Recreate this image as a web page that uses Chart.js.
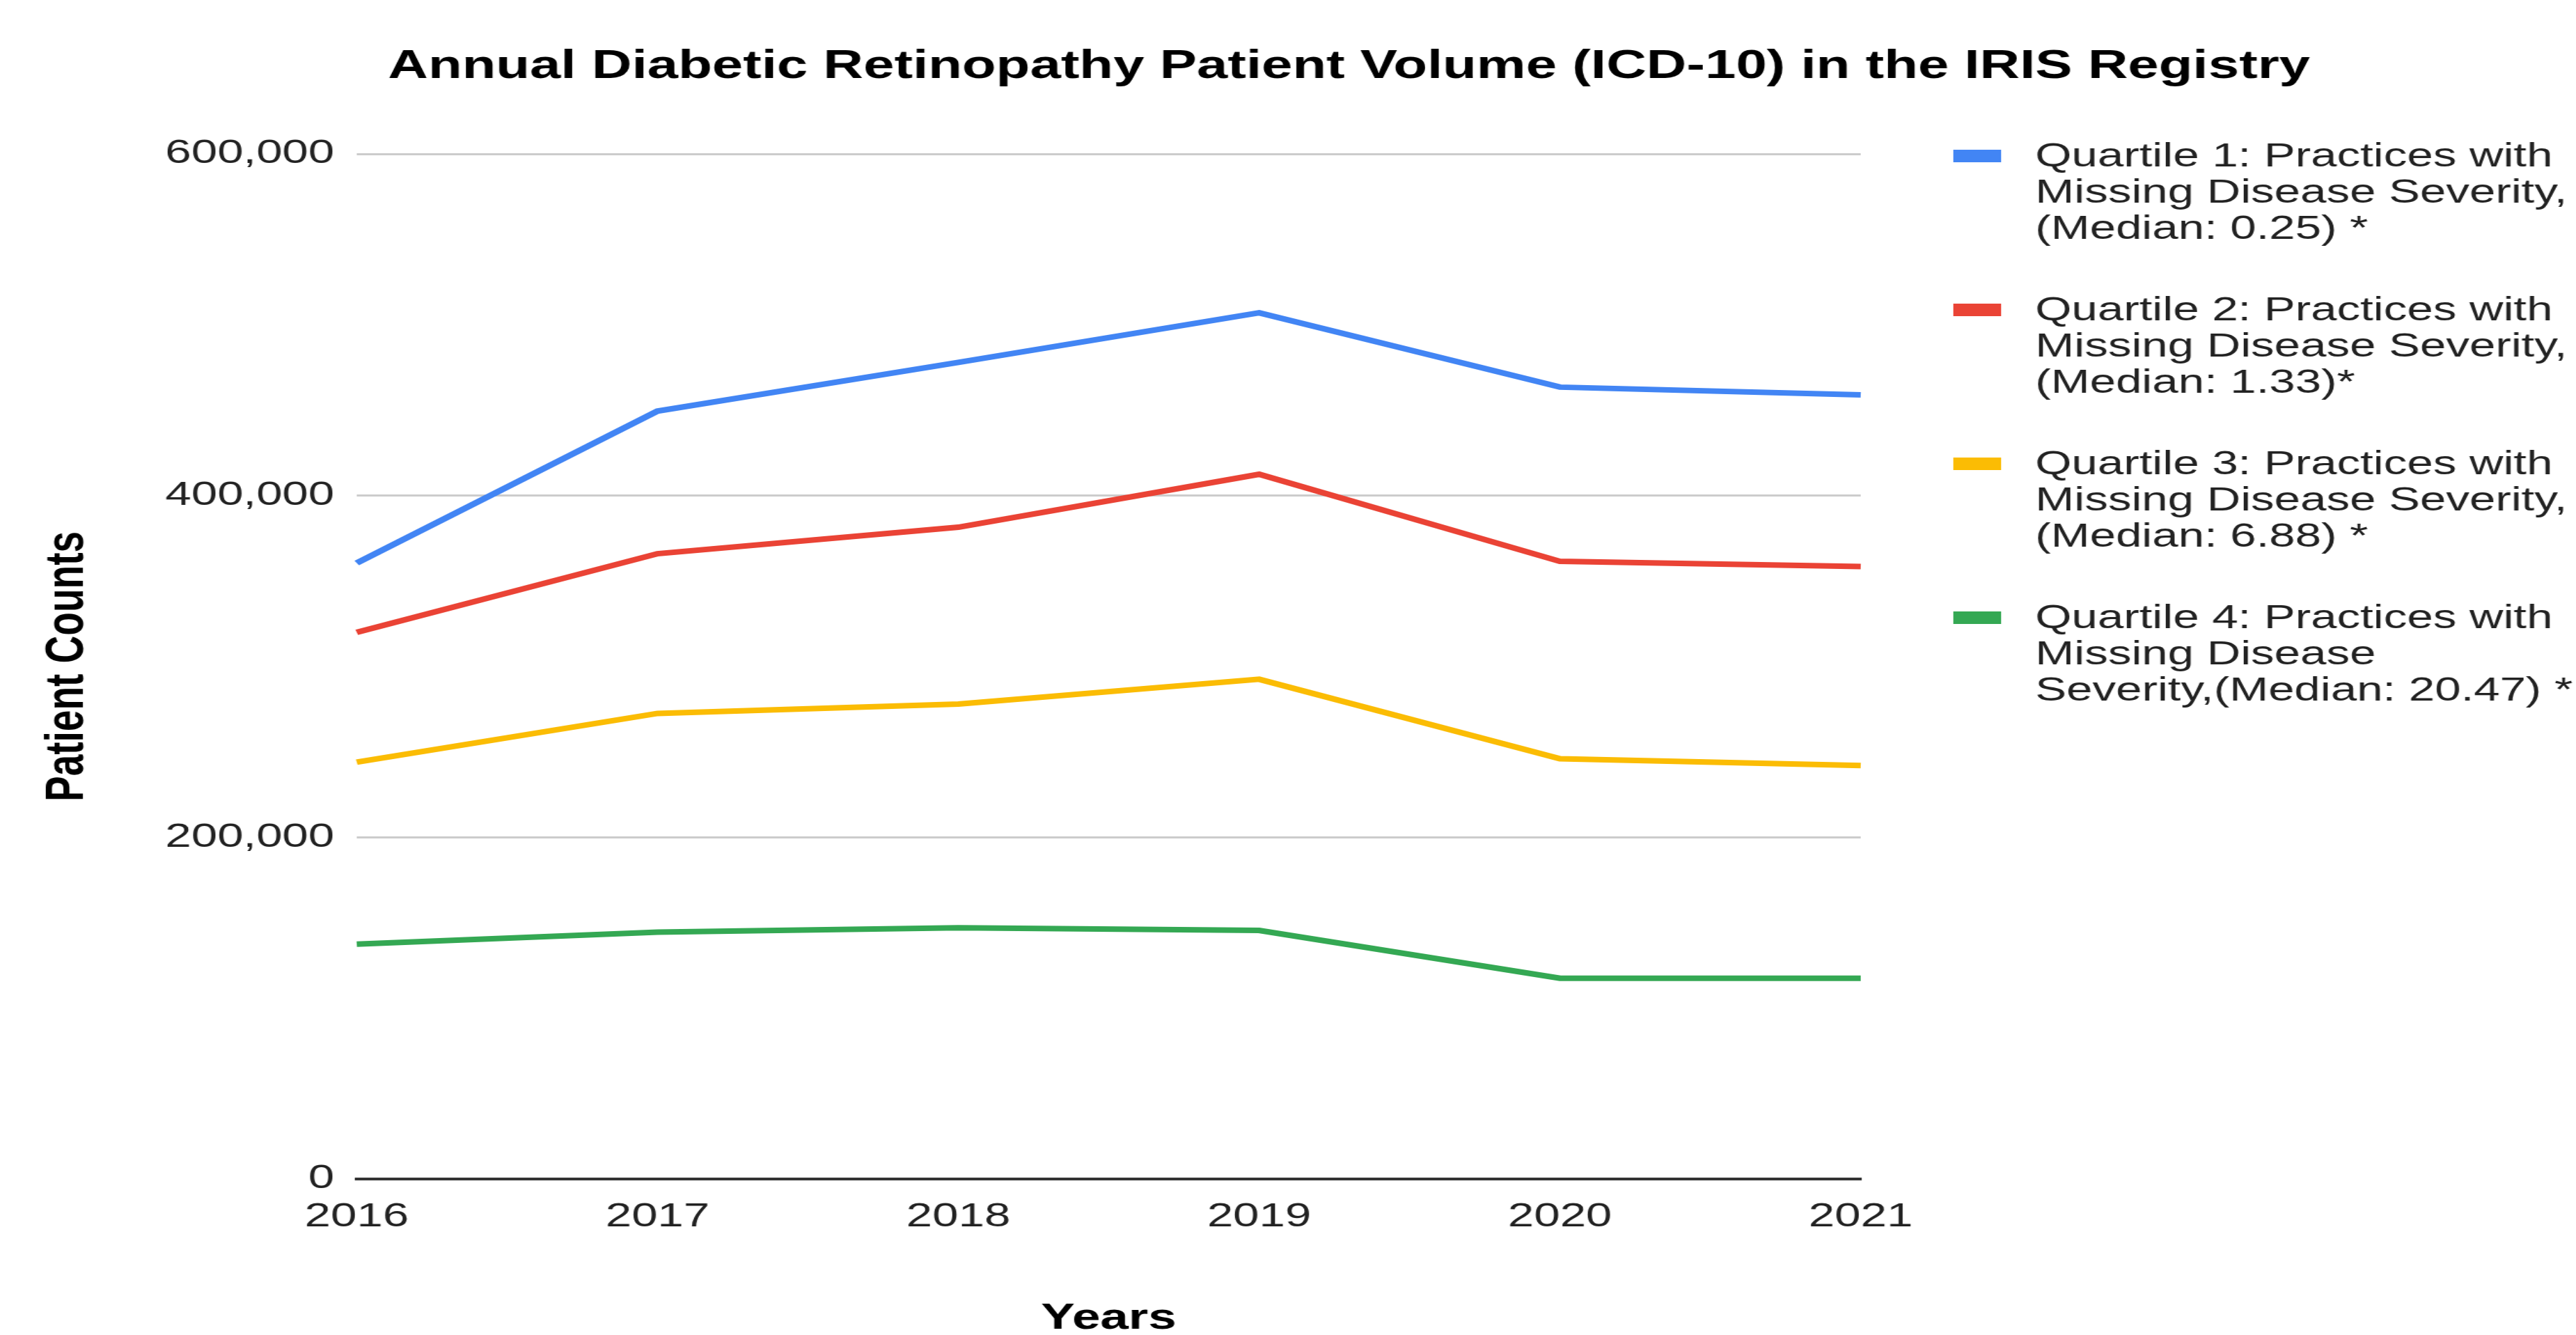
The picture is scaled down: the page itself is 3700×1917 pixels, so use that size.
<!DOCTYPE html>
<html>
<head>
<meta charset="utf-8">
<script src="https://cdn.jsdelivr.net/npm/chart.js@4.4.0/dist/chart.umd.min.js"></script>
<style>
  html, body { margin: 0; padding: 0; background: #fff; overflow: hidden; }
  /* the reference picture is stretched sideways, so the chart is too */
  #wrap { width: 2643px; height: 1917px; transform: scaleX(1.4); transform-origin: 0 0; }
</style>
</head>
<body>
<div id="wrap"><canvas id="line-chart" width="2643" height="1917"></canvas></div>
<script>
// data
const years = ['2016', '2017', '2018', '2019', '2020', '2021'];
const quartile1 = [360500, 449500, 478000, 507000, 463500, 459000];
const quartile2 = [320000, 366000, 381500, 412500, 361500, 358500];
const quartile3 = [244000, 272500, 278000, 292500, 246000, 242000];
const quartile4 = [137500, 144500, 147000, 145500, 117500, 117500];
const yTicks = [0, 200000, 400000, 600000];

const seriesLabels = [
  ['Quartile 1: Practices with', 'Missing Disease Severity,', '(Median: 0.25) *'],
  ['Quartile 2: Practices with', 'Missing Disease Severity,', '(Median: 1.33)*'],
  ['Quartile 3: Practices with', 'Missing Disease Severity,', '(Median: 6.88) *'],
  ['Quartile 4: Practices with', 'Missing Disease', 'Severity,(Median: 20.47) *']
];
const seriesColors = ['#4285F4', '#EA4335', '#FBBC04', '#34A853'];
const titleText = 'Annual Diabetic Retinopathy Patient Volume (ICD-10) in the IRIS Registry';

const family = '"Liberation Sans", Arial, sans-serif';
Chart.defaults.font.family = family;

// title + wrapped legend on the right
const sideLegend = {
  id: 'sideLegend',
  afterDraw(chart) {
    const ctx = chart.ctx;
    ctx.save();
    ctx.fillStyle = '#000';
    ctx.font = 'bold 57px ' + family;
    ctx.textAlign = 'center';
    ctx.textBaseline = 'alphabetic';
    ctx.fillText(titleText, 1384, 112);

    ctx.font = '48px ' + family;
    ctx.textAlign = 'left';
    chart.data.datasets.forEach((ds, i) => {
      const base = 239 + i * 221;
      ctx.fillStyle = ds.borderColor;
      ctx.fillRect(2004, base - 24, 49, 18);
      ctx.fillStyle = '#222';
      seriesLabels[i].forEach((line, j) => ctx.fillText(line, 2088, base + j * 52));
    });
    ctx.restore();
  }
};

const seriesData = [quartile1, quartile2, quartile3, quartile4];

new Chart(document.getElementById('line-chart'), {
  type: 'line',
  data: {
    labels: years,
    datasets: seriesData.map((d, i) => ({
      data: d,
      label: seriesLabels[i].join(' '),
      borderColor: seriesColors[i],
      backgroundColor: seriesColors[i],
      borderWidth: 8,
      pointRadius: 0,
      fill: false
    }))
  },
  options: {
    responsive: false,
    animation: false,
    devicePixelRatio: 1,
    layout: { padding: { top: 221, right: 734, left: 0, bottom: 0 } },
    plugins: {
      legend: { display: false },
      tooltip: { enabled: false }
    },
    scales: {
      x: {
        grid: { display: false, drawTicks: false },
        border: { display: true, color: '#333', width: 4 },
        ticks: { color: '#222', font: { size: 48 }, padding: 26, maxRotation: 0, autoSkip: false },
        title: {
          display: true,
          text: 'Years',
          color: '#000',
          font: { size: 52, weight: 'bold', lineHeight: 0.9 },
          padding: 0
        },
        afterFit(scale) { scale.height = 224; }
      },
      y: {
        min: 0,
        max: 600000,
        afterBuildTicks(scale) { scale.ticks = yTicks.map(v => ({ value: v })); },
        grid: {
          color: (c) => (c.tick && c.tick.value === 0 ? 'rgba(0,0,0,0)' : '#cccccc'),
          lineWidth: 3,
          drawTicks: false
        },
        border: { display: false },
        ticks: {
          color: '#222',
          font: { size: 48 },
          padding: 23,
          callback: (v) => v.toLocaleString('en-US')
        },
        title: {
          display: true,
          text: 'Patient Counts',
          color: '#000',
          font: { size: 55, weight: 'bold' },
          padding: { top: 37, bottom: 0 }
        },
        afterFit(scale) { scale.width = 366; }
      }
    }
  },
  plugins: [sideLegend]
});
</script>
</body>
</html>
